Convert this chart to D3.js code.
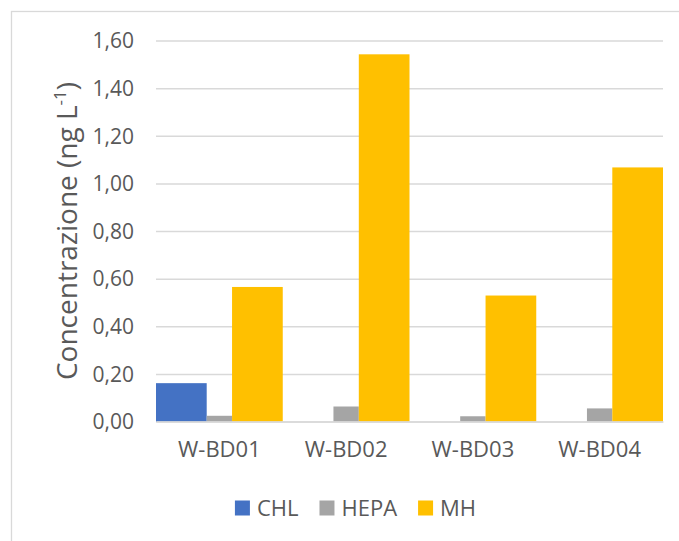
<!DOCTYPE html>
<html>
<head>
<meta charset="utf-8">
<script src="https://cdn.jsdelivr.net/npm/d3@7/dist/d3.min.js"></script>
<style>
  html, body { margin: 0; padding: 0; background: #fff; }
  svg text { font-family: "Open Sans", "Liberation Sans", sans-serif; fill: #595959; }
</style>
</head>
<body>
<svg id="chart" width="679" height="541"></svg>
<script>
// Samples and measured concentrations (ng/L)
const categories = ["W-BD01", "W-BD02", "W-BD03", "W-BD04"];
const seriesNames = ["CHL", "HEPA", "MH"];
const seriesColors = ["#4472C4", "#A5A5A5", "#FFC000"];
const chlValues = [0.161, 0, 0, 0];
const hepaValues = [0.024, 0.063, 0.022, 0.055];
const mhValues = [0.565, 1.542, 0.529, 1.067];
const yTicks = [0, 0.2, 0.4, 0.6, 0.8, 1.0, 1.2, 1.4, 1.6];

const seriesValues = [chlValues, hepaValues, mhValues];
// relative slot (start, width) of each series inside a category band
const slots = [[0, 0.4], [0.4, 0.2], [0.6, 0.4]];

const svg = d3.select("#chart");
const plot = { left: 156, right: 663, top: 40.5, bottom: 421.5 };

// chart area border
svg.append("rect")
  .attr("x", 11.5).attr("y", 11.5)
  .attr("width", 700).attr("height", 560)
  .attr("fill", "#fff").attr("stroke", "#D9D9D9").attr("stroke-width", 1.3);

const x = d3.scaleBand().domain(categories).range([plot.left, plot.right]).padding(0);
const y = d3.scaleLinear().domain([0, 1.6]).range([plot.bottom, plot.top]);

const fmt = v => d3.format(".2f")(v).replace(".", ",");

// gridlines + tick labels
const yAxis = d3.axisLeft(y).tickValues(yTicks).tickFormat(fmt)
  .tickSize(-(plot.right - plot.left)).tickPadding(22);
const gy = svg.append("g").attr("transform", `translate(${plot.left},0)`).call(yAxis);
gy.select(".domain").remove();
gy.selectAll(".tick line").attr("stroke", "#D9D9D9").attr("stroke-width", 1.5);
gy.selectAll(".tick text").attr("font-size", 21).attr("fill", "#595959").attr("dy", "0.35em");

// bars
seriesNames.forEach((name, si) => {
  svg.append("g").selectAll("rect")
    .data(categories.map((c, i) => ({ c, v: seriesValues[si][i] })))
    .join("rect")
    .attr("x", d => x(d.c) + slots[si][0] * x.bandwidth())
    .attr("width", slots[si][1] * x.bandwidth())
    .attr("y", d => y(d.v))
    .attr("height", d => y(0) - y(d.v))
    .attr("fill", seriesColors[si]);
});

// category axis line
const xAxis = d3.axisBottom(x).tickSize(0).tickPadding(20);
const gx = svg.append("g").attr("transform", `translate(0,${plot.bottom})`).call(xAxis);
gx.select(".domain").attr("stroke", "#D9D9D9").attr("stroke-width", 1.5);
gx.selectAll(".tick text").attr("font-size", 22).attr("fill", "#595959");

// y axis title with superscript
const title = svg.append("text")
  .attr("transform", `translate(77,231) rotate(-90)`)
  .attr("text-anchor", "middle")
  .attr("font-size", 28)
  .attr("fill", "#595959");
title.append("tspan").text("Concentrazione (ng L");
title.append("tspan").attr("font-size", 17).attr("dy", -11).text("-1");
title.append("tspan").attr("dy", 11).text(")");

// legend
const legend = svg.append("g");
let lx = 0;
seriesNames.forEach((name, i) => {
  const item = legend.append("g").attr("transform", `translate(${lx},0)`);
  item.append("rect").attr("x", 0).attr("y", -7.5).attr("width", 15).attr("height", 15)
    .attr("fill", seriesColors[i]);
  const t = item.append("text").attr("x", 22).attr("y", 0).attr("dy", "0.35em")
    .attr("font-size", 22).text(name);
  lx += 22 + t.node().getComputedTextLength() + 21;
});
const legendWidth = lx - 21;
legend.attr("transform", `translate(${355.5 - legendWidth / 2},508)`);
</script>
</body>
</html>
